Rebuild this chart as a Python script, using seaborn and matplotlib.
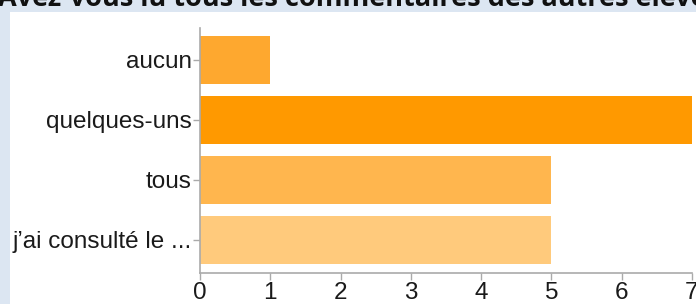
import matplotlib
matplotlib.use('Agg')
import matplotlib.pyplot as plt
from matplotlib.patches import Rectangle
import seaborn as sns
import pandas as pd

# --- データ ---
CATEGORIES = ['aucun', 'quelques-uns', 'tous', "j’ai consulté le ..."]
COUNTS = [1, 7, 5, 5]
BAR_COLORS = ['#fea82f', '#ff9900', '#ffb64e', '#ffca7c']
X_TICKS = [0, 1, 2, 3, 4, 5, 6, 7]
TITLE = 'Avez-vous lu tous les commentaires des autres élèves ?'

OUTPUT_FILE = 'out.png'


def plot_bars(df, output_path):
    sns.set_style('white')
    plt.rcParams['font.family'] = ['Liberation Sans', 'DejaVu Sans']

    fig = plt.figure(figsize=(6.96, 3.04), dpi=100, facecolor='#dce6f2')
    # 白いパネル (軸より後ろ)
    fig.patches.append(Rectangle((10 / 696, 0), 1, 1 - 12 / 304,
                                 transform=fig.transFigure,
                                 facecolor='white', edgecolor='none', zorder=-5))

    ax = fig.add_axes([200 / 696, 31 / 304, 492 / 696, 245 / 304])
    ax.set_zorder(2)
    ax.set_facecolor('none')

    sns.barplot(data=df, x='count', y='category', hue='category',
                palette=BAR_COLORS, legend=False, width=0.8,
                linewidth=0, saturation=1, ax=ax)

    ax.set_xlim(0, 7)
    ax.set_ylim(3.55, -0.53)
    ax.set_xticks(X_TICKS)
    ax.set_xlabel('')
    ax.set_ylabel('')

    for side in ['top', 'right']:
        ax.spines[side].set_visible(False)
    for side in ['left', 'bottom']:
        ax.spines[side].set_color('#aaaaaa')
        ax.spines[side].set_linewidth(1.2)

    ax.tick_params(axis='both', which='both', length=5, width=1,
                   color='#aaaaaa', labelsize=17.5, labelcolor='#1a1a1a',
                   left=True, bottom=True, pad=1.5)
    ax.tick_params(axis='y', pad=1)

    fig.text(-0.003, 1 - 6 / 304, TITLE, fontsize=19.5, fontweight='bold',
             family=['Open Sans', 'DejaVu Sans'], color='#111111',
             ha='left', va='baseline', zorder=3)

    fig.savefig(output_path, dpi=100, facecolor=fig.get_facecolor())
    plt.close(fig)


def main():
    df = pd.DataFrame({'category': CATEGORIES, 'count': COUNTS})
    plot_bars(df, OUTPUT_FILE)


if __name__ == '__main__':
    main()
